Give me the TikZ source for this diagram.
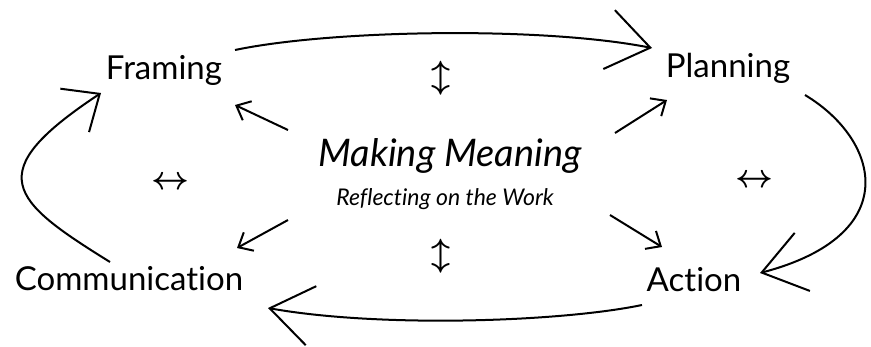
\documentclass[tikz,border=0pt]{standalone}
\usepackage{graphicx}
\usepackage{fontspec}
\setmainfont{Lato}[Ligatures=NoCommon]
\usetikzlibrary{arrows.meta}

\begin{document}
\begin{tikzpicture}[x=1pt,y=-1pt,line width=2pt,
    bigArrow/.style={-{Straight Barb[length=42pt,width=60pt]}},
    smallArrow/.style={-{Straight Barb[length=12pt,width=21pt]}},
    phase/.style={font=\fontsize{33}{39}\selectfont,inner sep=4pt,anchor=base},
    dual/.style={inner sep=0pt}]
    \useasboundingbox (0,0) rectangle (871,346);

    % Phasen
    \node[phase] (frame) at (164,79) {Framing};
    \node[phase] (plan) at (728,77) {Planning};
    \node[phase] (comm) at (129,290) {Communication};
    \node[phase] (act) at (694,291) {Action};

    % Mitte
    \node[anchor=base,inner sep=4pt,font=\fontsize{38}{44}\selectfont\itshape] (mean) at (450,166) {Making Meaning};
    \node[anchor=base,inner sep=4pt,font=\fontsize{23}{27}\selectfont\itshape] (reflect) at (445,205) {Reflecting on the Work};

    % Wechselwirkung
    \node[dual] (vtop) at (441,78) {\scalebox{3.3}{\boldmath$\updownarrow$}};
    \node[dual] (vbot) at (441,256) {\scalebox{3.3}{\boldmath$\updownarrow$}};
    \node[dual] (hleft) at (170,183) {\scalebox{3.3}{\boldmath$\leftrightarrow$}};
    \node[dual] (hright) at (754,181) {\scalebox{3.3}{\boldmath$\leftrightarrow$}};

    % Kreislauf
    \draw[bigArrow] ([shift={(71,-29)}]frame.base) .. controls (330,30) and (540,26) .. ([shift={(-76,-29)}]plan.base);
    \draw[bigArrow] ([shift={(77,18)}]plan.base) .. controls (880,140) and (905,235) .. ([shift={(66,-18)}]act.base);
    \draw[bigArrow] ([shift={(-52,14)}]act.base) .. controls (560,322) and (380,328) .. ([shift={(139,18)}]comm.base);
    \draw[-{Straight Barb[length=30pt,width=52pt]}] ([shift={(-19,-28)}]comm.base) .. controls (10,200) and (-20,173) .. ([shift={(-63,14)}]frame.base);

    % Reflexion
    \draw[smallArrow] ([shift={(-162,-36)}]mean.base) -- ([shift={(71,26)}]frame.base);
    \draw[smallArrow] ([shift={(165,-33)}]mean.base) -- ([shift={(-61,23)}]plan.base);
    \draw[smallArrow] ([shift={(-157,15)}]reflect.base) -- ([shift={(108,-42)}]comm.base);
    \draw[smallArrow] ([shift={(165,10)}]reflect.base) -- ([shift={(-32,-44)}]act.base);
\end{tikzpicture}
\end{document}
